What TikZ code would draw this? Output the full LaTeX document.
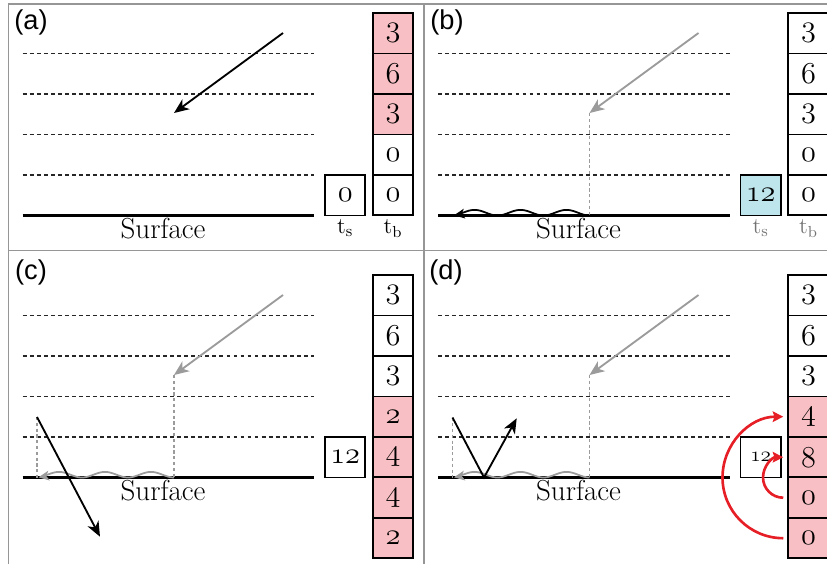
\documentclass[tikz,border=0pt]{standalone}
\usepackage{fontspec}
\usepackage{tikz}
\usetikzlibrary{arrows.meta,positioning}
\newfontfamily\labelfont{Liberation Sans}
\definecolor{framegray}{RGB}{150,150,150}
\definecolor{raygray}{RGB}{155,155,155}
\definecolor{cellpink}{RGB}{248,192,196}
\definecolor{cellcyan}{RGB}{190,228,236}
\definecolor{movered}{RGB}{230,30,38}
\newcommand{\cnum}[1]{$\mathnormal{#1}$}

\begin{document}
\begin{tikzpicture}[x=0.02cm, y=-0.02cm,
    panelline/.style={framegray, line width=0.9pt},
    depthline/.style={black!85, line width=0.6pt, dash pattern=on 2.2pt off 1.8pt},
    dropline/.style={raygray, line width=0.6pt, dash pattern=on 1.8pt off 1.5pt},
    surf/.style={black, line width=1.3pt},
    ray/.style={black, line width=1.05pt, -{Stealth[length=8.5pt, width=7pt, inset=2.5pt]}},
    wave/.style={line width=1pt, -{Stealth[length=6pt, width=5.5pt, inset=1.5pt]}},
    cell/.style={rectangle, draw, line width=1.1pt, minimum width=0.81cm, minimum height=0.81cm,
                 inner sep=0pt, outer sep=0pt, font=\fontsize{16.5}{18}\selectfont},
    hit/.style={cell, fill=cellpink},
    plabel/.style={font=\labelfont\fontsize{15.5}{18}\selectfont},
    surflabel/.style={font=\fontsize{16.5}{19}\selectfont},
    tlabel/.style={font=\fontsize{13}{15}\selectfont, inner sep=1pt},
    moveline/.style={movered, line width=1.5pt, -{Stealth[length=6pt, width=6pt, inset=1pt]}}
]
    \useasboundingbox (0,0) rectangle (827,564);

    % panel frame
    \draw[panelline] (8.5,564) -- (8.5,4) -- (827,4);
    \draw[panelline] (424,4) -- (424,564);
    \draw[panelline] (8.5,250.5) -- (827,250.5);

    % (a) incoming particle
    \node[plabel] (la) at (31,22) {(a)};
    \foreach \y in {53.3,94,134.3,175}
        \draw[depthline] (22.7,\y) -- (314,\y);
    \draw[surf] (22.7,215.5) -- (314,215.5);
    \node[surflabel] (sa) at (163,229) {Surface};
    \coordinate (ina) at (283,33);
    \coordinate (stopa) at (174,113);
    \draw[ray] (ina) -- (stopa);
    \node[hit, anchor=north] (a1) at (393,13) {\cnum{3}};
    \node[hit, below=0pt of a1] (a2) {\cnum{6}};
    \node[hit, below=0pt of a2] (a3) {\cnum{3}};
    \node[cell, below=0pt of a3] (a4) {\cnum{0}};
    \node[cell, below=0pt of a4] (a5) {\cnum{0}};
    \node[cell, anchor=south] (tsa) at (345.2,215.5) {\cnum{0}};
    \node[tlabel, below=1pt of tsa] (tsla) {t\textsubscript{s}};
    \node[tlabel, below=1pt of a5] (tbla) {t\textsubscript{b}};

    % (b) stop and surface diffusion
    \begin{scope}[shift={(415.5,0)}]
        \node[plabel] (lb) at (31.5,22) {(b)};
        \foreach \y in {53.3,94,134.3,175}
            \draw[depthline] (22.7,\y) -- (314,\y);
        \draw[surf] (22.7,215.5) -- (314,215.5);
        \node[surflabel] (sb) at (163,229) {Surface};
        \coordinate (inb) at (283,33);
        \coordinate (stopb) at (174,113);
        \coordinate (footb) at (174,215.5);
        \draw[ray, raygray] (inb) -- (stopb);
        \draw[dropline] (stopb) -- (footb);
        \draw[wave, black] plot[domain=0:135.5, samples=90] ({174-\x}, {215.5-2.8*(1-cos(7.826*\x))});
        \node[cell, anchor=north] (b1) at (393,13) {\cnum{3}};
        \node[cell, below=0pt of b1] (b2) {\cnum{6}};
        \node[cell, below=0pt of b2] (b3) {\cnum{3}};
        \node[cell, below=0pt of b3] (b4) {\cnum{0}};
        \node[cell, below=0pt of b4] (b5) {\cnum{0}};
        \node[cell, fill=cellcyan, anchor=south] (tsb) at (345.2,215.5) {\cnum{12}};
        \node[tlabel, text=black!55, below=1pt of tsb] (tslb) {t\textsubscript{s}};
        \node[tlabel, text=black!55, below=1pt of b5] (tblb) {t\textsubscript{b}};
    \end{scope}

    % (c) transmitted
    \begin{scope}[shift={(0,262)}]
        \node[plabel] (lc) at (31,10) {(c)};
        \foreach \y in {53.3,94,134.3,175}
            \draw[depthline] (22.7,\y) -- (314,\y);
        \draw[surf] (22.7,215.5) -- (314,215.5);
        \node[surflabel] (sc) at (163,229) {Surface};
        \coordinate (inc) at (283,33);
        \coordinate (stopc) at (174,113);
        \coordinate (footc) at (174,215.5);
        \coordinate (jumpc) at (37,155);
        \coordinate (landc) at (37,215.5);
        \coordinate (outc) at (100,274.7);
        \draw[ray, raygray] (inc) -- (stopc);
        \draw[dropline] (stopc) -- (footc);
        \draw[wave, raygray] plot[domain=0:135.5, samples=90] ({174-\x}, {215.5-2.8*(1-cos(7.826*\x))});
        \draw[dropline] (jumpc) -- (landc);
        \draw[ray] (jumpc) -- (outc);
        \node[cell, anchor=north] (c1) at (393,13) {\cnum{3}};
        \node[cell, below=0pt of c1] (c2) {\cnum{6}};
        \node[cell, below=0pt of c2] (c3) {\cnum{3}};
        \node[hit, below=0pt of c3] (c4) {\cnum{2}};
        \node[hit, below=0pt of c4] (c5) {\cnum{4}};
        \node[hit, below=0pt of c5] (c6) {\cnum{4}};
        \node[hit, below=0pt of c6] (c7) {\cnum{2}};
        \node[cell, anchor=south] (tsc) at (345.2,215.5) {\cnum{12}};
    \end{scope}

    % (d) reflected, counts moved up
    \begin{scope}[shift={(415.5,262)}]
        \node[plabel] (ld) at (30.5,10) {(d)};
        \foreach \y in {53.3,94,134.3,175}
            \draw[depthline] (22.7,\y) -- (314,\y);
        \draw[surf] (22.7,215.5) -- (314,215.5);
        \node[surflabel] (sd) at (163,229) {Surface};
        \coordinate (ind) at (283,33);
        \coordinate (stopd) at (174,113);
        \coordinate (footd) at (174,215.5);
        \coordinate (jumpd) at (37,155.5);
        \coordinate (landd) at (37,215.5);
        \coordinate (bounced) at (68.5,215.5);
        \coordinate (outd) at (101.2,156.3);
        \draw[ray, raygray] (ind) -- (stopd);
        \draw[dropline] (stopd) -- (footd);
        \draw[wave, raygray] plot[domain=0:135.5, samples=90] ({174-\x}, {215.5-2.8*(1-cos(7.826*\x))});
        \draw[dropline] (jumpd) -- (landd);
        \draw[ray] (jumpd) -- (bounced) -- (outd);
        \node[cell, anchor=north] (d1) at (393,13) {\cnum{3}};
        \node[cell, below=0pt of d1] (d2) {\cnum{6}};
        \node[cell, below=0pt of d2] (d3) {\cnum{3}};
        \node[hit, below=0pt of d3] (d4) {\cnum{4}};
        \node[hit, below=0pt of d4] (d5) {\cnum{8}};
        \node[hit, below=0pt of d5] (d6) {\cnum{0}};
        \node[hit, below=0pt of d6] (d7) {\cnum{0}};
        \node[cell, anchor=south, font=\fontsize{12}{14}\selectfont] (tsd) at (345.2,215.5) {\cnum{12}};
        \draw[moveline] ([xshift=-0.1cm]d7.west) arc[start angle=90, end angle=270, radius=60.75];
        \draw[moveline] ([xshift=-0.1cm]d6.west) arc[start angle=90, end angle=270, radius=20.25];
    \end{scope}
\end{tikzpicture}
\end{document}
